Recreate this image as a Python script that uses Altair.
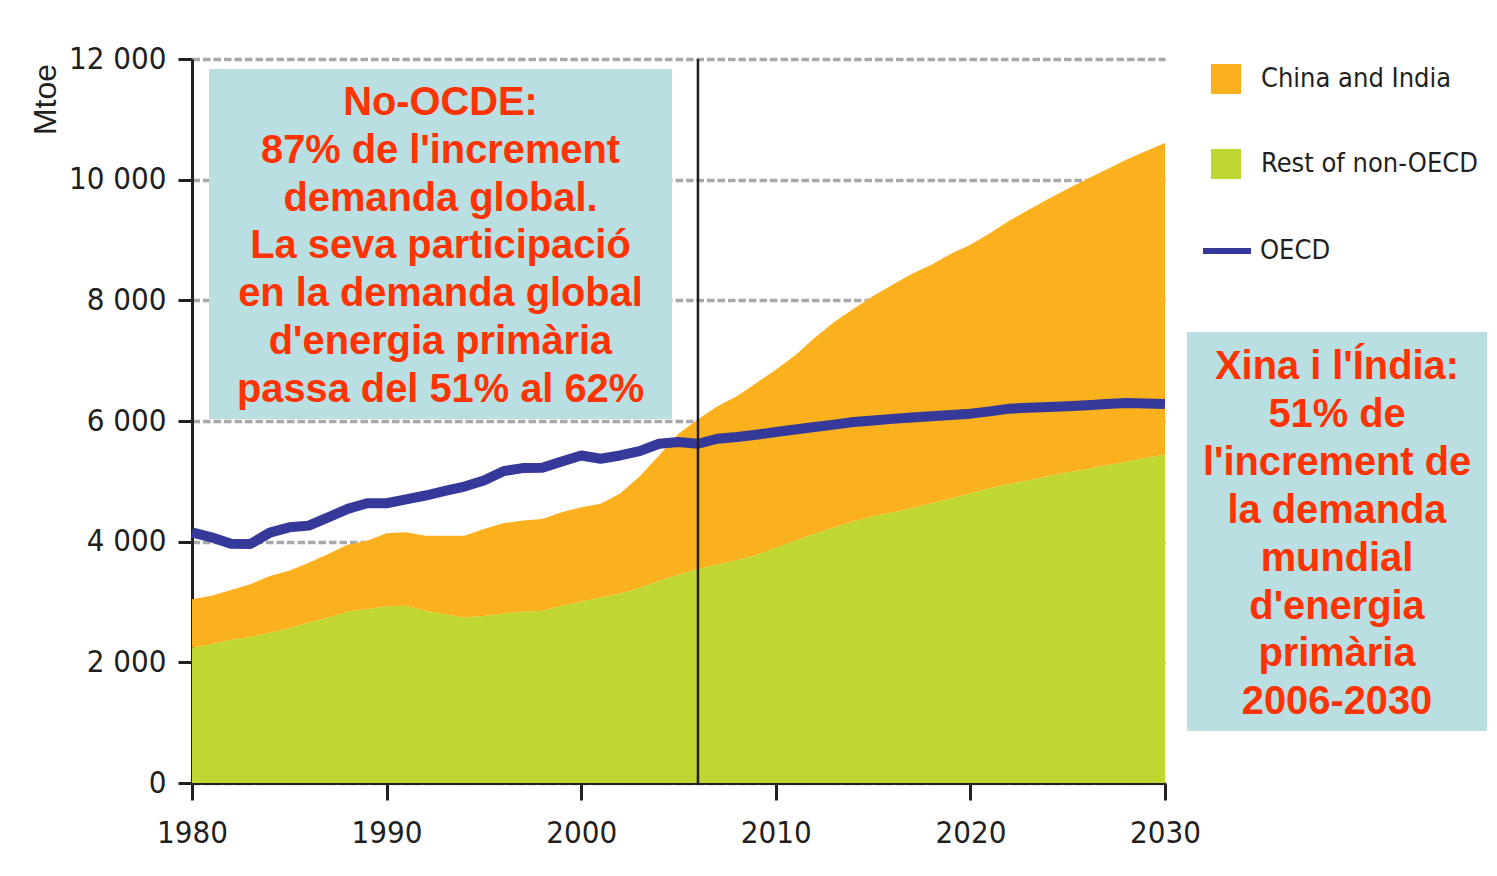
import altair as alt
import pandas as pd

# ---------------- data (Mtoe) ----------------
years = list(range(1980, 2031))

oecd = [4155, 4072, 3965, 3961, 4150, 4238, 4266, 4404, 4543, 4637,
        4637, 4700, 4765, 4840, 4914, 5014, 5169, 5219, 5224, 5330,
        5429, 5374, 5429, 5501, 5623, 5651, 5623, 5706, 5734, 5773,
        5817, 5860, 5900, 5940, 5983, 6010, 6035, 6058, 6078, 6100,
        6122, 6160, 6205, 6220, 6233, 6245, 6260, 6280, 6299, 6290,
        6280]

rest_non_oecd = [2244, 2299, 2375, 2421, 2490, 2565, 2655, 2742, 2842, 2881,
                 2931, 2936, 2853, 2798, 2742, 2770, 2809, 2837, 2853, 2936,
                 3008, 3075, 3135, 3230, 3352, 3452, 3546, 3620, 3690, 3777,
                 3900, 4020, 4130, 4235, 4340, 4420, 4485, 4560, 4635, 4715,
                 4800, 4890, 4955, 5020, 5090, 5150, 5205, 5265, 5325, 5385,
                 5446]

china_india = [803, 803, 825, 875, 940, 953, 995, 1053, 1108, 1136,
               1207, 1219, 1247, 1302, 1358, 1441, 1496, 1512, 1524, 1552,
               1563, 1555, 1665, 1850, 2078, 2338, 2484, 2623, 2719, 2853,
               2951, 3070, 3250, 3405, 3520, 3650, 3775, 3880, 3956, 4058,
               4123, 4220, 4365, 4480, 4590, 4700, 4805, 4905, 5006, 5085,
               5162]

projection_start = [2006]
y_ticks = [0, 2000, 4000, 6000, 8000, 10000, 12000]
x_ticks = [1980, 1990, 2000, 2010, 2020, 2030]
area_names = ["China and India", "Rest of non-OECD"]
line_names = ["OECD"]
y_title = "Mtoe"

note_left = ["No-OCDE:",
             "87% de l'increment",
             "demanda global.",
             "La seva participació",
             "en la demanda global",
             "d'energia primària",
             "passa del 51% al 62%"]
note_right = ["Xina i l'Índia:",
              "51% de",
              "l'increment de",
              "la demanda",
              "mundial",
              "d'energia",
              "primària",
              "2006-2030"]

# ---------------- styles ----------------
ORANGE = "#FBB01D"
GREEN = "#C0D731"
NAVY = "#35399A"
INK = "#231F20"
BOX = "#B9DFE2"
RED = "#FF3300"
NARROW = "DejaVu Sans Condensed, DejaVu Sans, sans-serif"
BOLD = "Liberation Sans, Arial, sans-serif"

area_df = pd.DataFrame({
    "year": years * 2,
    "region": ["Rest of non-OECD"] * len(years) + ["China and India"] * len(years),
    "value": rest_non_oecd + china_india,
    "stackorder": [0] * len(years) + [1] * len(years),
})
line_df = pd.DataFrame({"year": years, "value": oecd, "group": line_names * len(years)})
rule_df = pd.DataFrame({"year": projection_start})

x_enc = alt.X(
    "year:Q",
    scale=alt.Scale(domain=[1980, 2030], nice=False, zero=False),
    axis=alt.Axis(values=x_ticks, format="d", grid=False, title=None,
                  domainColor=INK, domainWidth=3, tickColor=INK, tickWidth=3,
                  tickSize=17, labelPadding=18, labelFont=NARROW, labelFontSize=31,
                  labelColor=INK, labelFlush=False, labelOverlap=False),
)
y_enc = alt.Y(
    "value:Q",
    stack="zero",
    scale=alt.Scale(domain=[0, 12000], nice=False),
    axis=alt.Axis(values=y_ticks,
                  labelExpr="replace(format(datum.value, ','), ',', ' ')",
                  grid=True, gridDash=[7.5, 3], gridColor="#A7A9AC", gridWidth=3.5,
                  domainColor=INK, domainWidth=3, tickColor=INK, tickWidth=3,
                  tickSize=14, labelPadding=12, labelFont=NARROW, labelFontSize=31,
                  labelColor=INK, labelFlush=False, labelOverlap=False,
                  title=y_title, titleFont="Liberation Sans, sans-serif",
                  titleFontSize=32, titleFontWeight="normal", titleColor=INK,
                  titleAngle=270, titleX=-137, titleY=40, titleAlign="center",
                  titleBaseline="alphabetic"),
)

areas = alt.Chart(area_df).mark_area(opacity=1).encode(
    x=x_enc,
    y=y_enc,
    fill=alt.Fill("region:N",
                  scale=alt.Scale(domain=area_names, range=[ORANGE, GREEN]),
                  legend=alt.Legend(title=None, orient="none", legendX=1019, legendY=5,
                                    symbolType="square", symbolSize=900,
                                    symbolStrokeWidth=0, labelFont=NARROW,
                                    labelFontSize=27, labelColor=INK, rowPadding=55,
                                    labelOffset=20, labelLimit=0, padding=0)),
    order=alt.Order("stackorder:Q", sort="ascending"),
)

line = alt.Chart(line_df).mark_line(strokeWidth=10, strokeCap="butt",
                                    strokeJoin="round").encode(
    x="year:Q",
    y=alt.Y("value:Q"),
    stroke=alt.Stroke("group:N",
                      scale=alt.Scale(domain=line_names, range=[NAVY]),
                      legend=alt.Legend(title=None, orient="none", legendX=1008,
                                        legendY=165, symbolType="stroke",
                                        symbolSize=2304, symbolStrokeWidth=6,
                                        labelFont=NARROW, labelFontSize=27,
                                        labelColor=INK, labelOffset=6,
                                        labelLimit=0, padding=0)),
)

rule = alt.Chart(rule_df).mark_rule(color=INK, strokeWidth=2.5).encode(x="year:Q")

one = alt.Data(values=[{}])
box1 = alt.Chart(one).mark_rect(color=BOX).encode(
    x=alt.value(17), x2=alt.value(480), y=alt.value(10), y2=alt.value(360))
box2 = alt.Chart(one).mark_rect(color=BOX).encode(
    x=alt.value(995), x2=alt.value(1295), y=alt.value(273), y2=alt.value(672))

text1 = alt.Chart(one).mark_text(
    font=BOLD, fontWeight="bold", fontSize=39.8, color=RED, align="center",
    baseline="alphabetic", lineHeight=47.8, lineBreak="\n").encode(
    x=alt.value(248.5), y=alt.value(56), text=alt.value("\n".join(note_left)))
text2 = alt.Chart(one).mark_text(
    font=BOLD, fontWeight="bold", fontSize=39.8, color=RED, align="center",
    baseline="alphabetic", lineHeight=47.9, lineBreak="\n").encode(
    x=alt.value(1145), y=alt.value(320), text=alt.value("\n".join(note_right)))

chart = alt.layer(areas, line, rule, box1, text1, box2, text2).properties(
    width=973, height=724,
    padding={"left": 184, "top": 51, "right": 324, "bottom": 85},
    autosize=alt.AutoSizeParams(type="none"),
    background="white",
).configure_view(stroke=None).resolve_scale(y="shared")

chart.save("out.html", embed_options={"renderer": "svg", "actions": False})
